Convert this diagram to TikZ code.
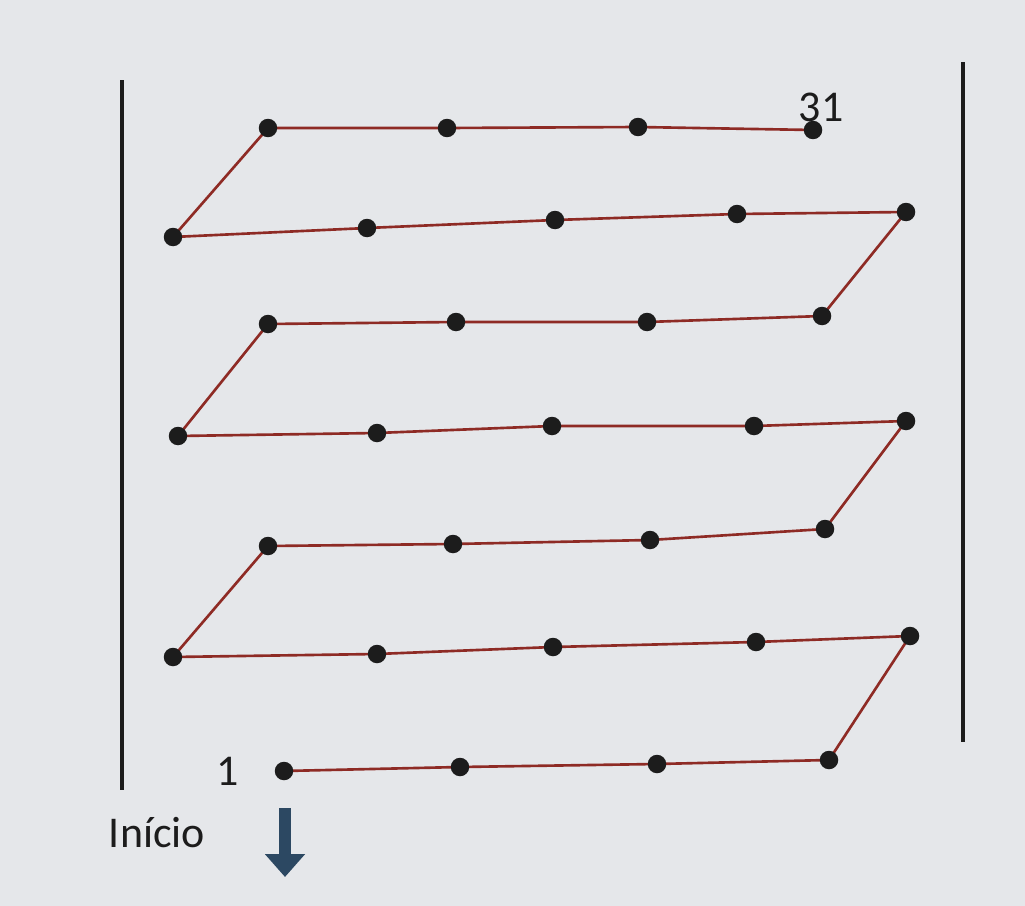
\documentclass[tikz,border=0pt]{standalone}
\usepackage{fontspec}
\setmainfont{Carlito}
\usetikzlibrary{arrows.meta}
\definecolor{bg}{HTML}{E5E7EA}
\definecolor{pathred}{HTML}{8E2B25}
\definecolor{arrowblue}{HTML}{2C4862}
\definecolor{ink}{HTML}{1C1C1C}
\tikzset{
  dot/.style={circle,fill=ink,inner sep=0pt,minimum size=0.37cm},
  trail/.style={draw=pathred,line width=1.5pt,line join=round},
  wall/.style={draw=ink,line width=2pt},
  lbl/.style={font=\fontsize{25}{29}\selectfont,text=ink,inner sep=0pt}
}
\begin{document}
\begin{tikzpicture}[x=0.02cm,y=-0.02cm]
\fill[bg] (0,0) rectangle (1025,906);
\useasboundingbox (0,0) rectangle (1025,906);
% walls
\coordinate (lt) at (122,80); \coordinate (lb) at (122,790);
\coordinate (rt) at (963,62); \coordinate (rb) at (963,742);
\draw[wall] (lt) -- (lb);
\draw[wall] (rt) -- (rb);
% points
\foreach \i/\x/\y in {1/284/771,2/460/767,3/657/764,4/829/760,
 5/910/636,6/756/642,7/553/647,8/377/654,9/173/657,
 10/268/546,11/453/544,12/650/540,13/825/529,
 14/906/421,15/754/426,16/552/426,17/377/433,18/178/436,
 19/268/324,20/456/322,21/647/322,22/822/316,
 23/906/212,24/737/214,25/555/220,26/367/228,27/173/237,
 28/268/128,29/447/128,30/638/127,31/813/130}
  \coordinate (c\i) at (\x,\y);
\draw[trail] (c1) \foreach \i in {2,...,31}{ -- (c\i)};
\foreach \i in {1,...,31} \node[dot] (p\i) at (c\i) {};
% labels
\node[lbl] (n1) at (228,771) {1};
\node[lbl] (n31) at (821,107) {31};
\node[lbl] (start) at (157,833) {Início};
% arrow
\coordinate (as) at (285,808);
\coordinate (ae) at (285,877);
\draw[draw=arrowblue,line width=7pt,-{Triangle[width=22pt,length=13pt]}] (as) -- (ae);
\end{tikzpicture}
\end{document}
